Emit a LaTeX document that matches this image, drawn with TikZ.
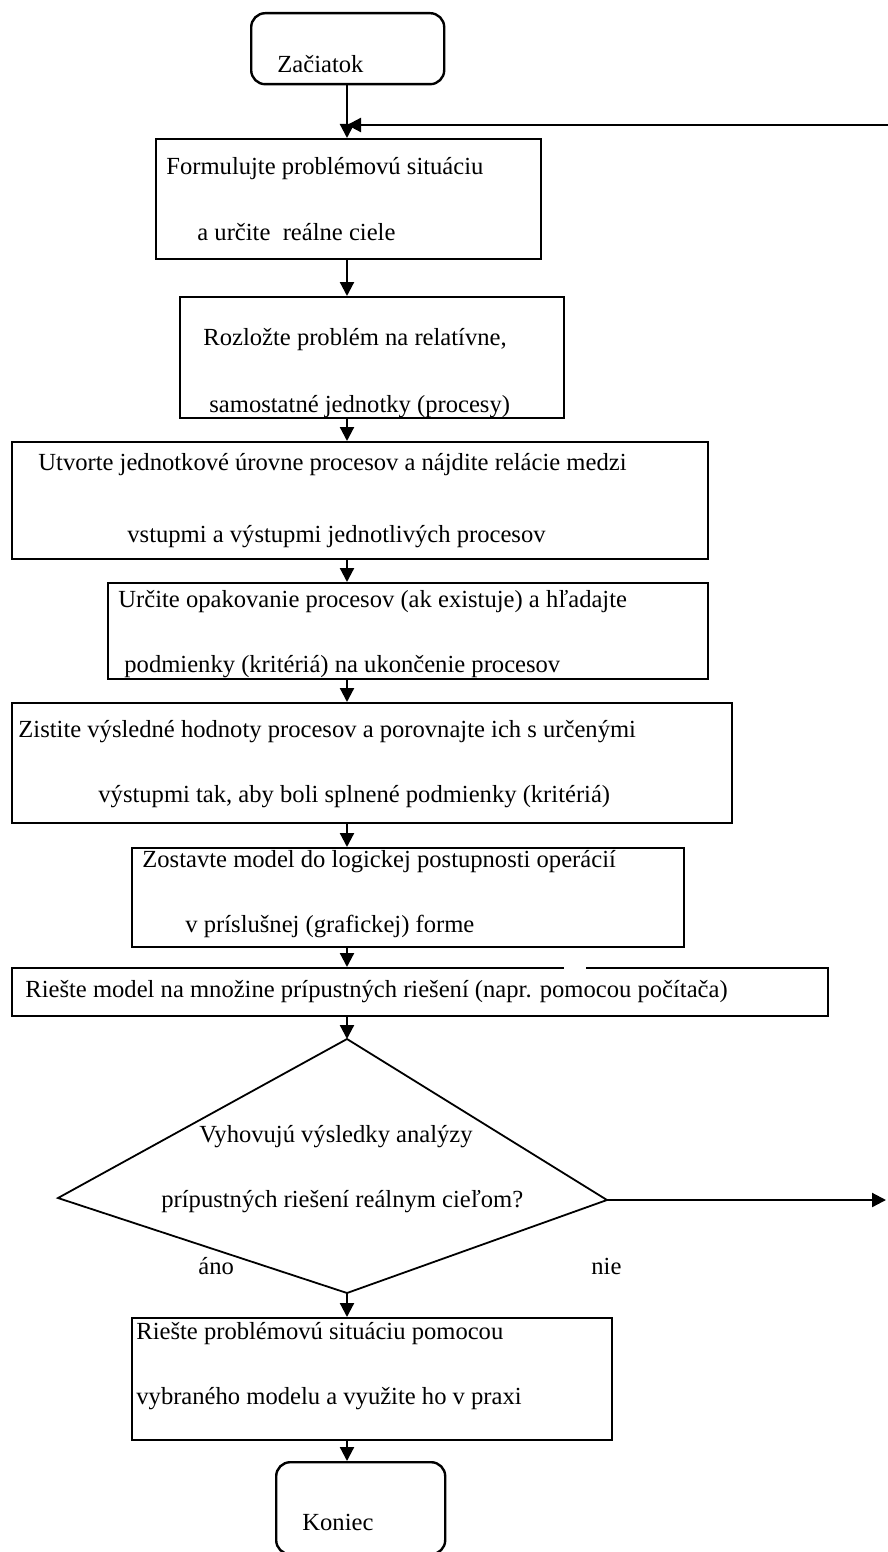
\documentclass[tikz,border=0pt]{standalone}
\usepackage{fontspec}
\setmainfont{Liberation Serif}
\usepackage{tikz}
\usetikzlibrary{arrows.meta}

\begin{document}
\begin{tikzpicture}[x=0.5pt,y=-0.5pt,
  box/.style={draw=black, line width=1.2pt, inner sep=0pt, anchor=north west},
  txt/.style={anchor=base west, inner sep=0pt, font=\fontsize{12.3}{14}\selectfont},
  arr/.style={-{Triangle[width=7pt,length=7pt]}, line width=1.1pt}]
\useasboundingbox (0,0) rectangle (888,1552);

% main axis of the flow
\coordinate (os) at (347,0);

% Start
\node[box, rounded corners=7pt, minimum width=96.5pt, minimum height=35.5pt] (zac) at (250,12) {};
\node[txt] (tzac) at (277,73) {Začiatok};

% Boxes of the steps
\node[box, minimum width=192.5pt, minimum height=60pt] (formul) at (155,138) {};
\node[txt] (tf1) at (166,175) {Formulujte problémovú situáciu};
\node[txt] (tf2) at (197,240) {a určite\ \ reálne ciele};

\node[box, minimum width=192pt, minimum height=60.5pt] (rozloz) at (179,296) {};
\node[txt] (tr1) at (203,345) {Rozložte problém na relatívne,};
\node[txt] (tr2) at (209,412) {samostatné jednotky (procesy)};

\node[box, minimum width=348pt, minimum height=58.5pt] (utvor) at (11,441) {};
\node[txt] (tu1) at (38,470) {Utvorte jednotkové úrovne procesov a nájdite relácie medzi};
\node[txt] (tu2) at (127,542) {vstupmi a výstupmi jednotlivých procesov};

\node[box, minimum width=300pt, minimum height=48pt] (urcite) at (107,582) {};
\node[txt] (tc1) at (118,607) {Určite opakovanie procesov (ak existuje) a hľadajte};
\node[txt] (tc2) at (124,672) {podmienky (kritériá) na ukončenie procesov};

\node[box, minimum width=360pt, minimum height=60pt] (zistite) at (11,702) {};
\node[txt] (tz1) at (18,737) {Zistite výsledné hodnoty procesov a porovnajte ich s určenými};
\node[txt] (tz2) at (98,802) {výstupmi tak, aby boli splnené podmienky (kritériá)};

\node[box, minimum width=276pt, minimum height=49.5pt] (zostav) at (131,847) {};
\node[txt] (ts1) at (142,867) {Zostavte model do logickej postupnosti operácií};
\node[txt] (ts2) at (185,932) {v príslušnej (grafickej) forme};

\node[box, minimum width=408pt, minimum height=24pt] (riesmod) at (11,967) {};
\draw[white, line width=2pt] (564,967) -- (586,967);
\node[txt] (tm1) at (25,997) {Riešte model na množine prípustných riešení (napr. pomocou počítača)};

% Decision
\coordinate (dtop) at (347,1039);
\coordinate (dleft) at (58,1198);
\coordinate (dbot) at (347,1293);
\coordinate (dright) at (607,1200);
\draw[line width=0.9pt] (dtop) -- (dright) -- (dbot) -- (dleft) -- cycle;
\node[txt] (td1) at (199,1142) {Vyhovujú výsledky analýzy};
\node[txt] (td2) at (161,1207) {prípustných riešení reálnym cieľom?};
\node[txt] (ano) at (198,1274) {áno};
\node[txt] (nie) at (591,1274) {nie};

\node[box, minimum width=240pt, minimum height=61pt] (riesprob) at (131,1317) {};
\node[txt] (tp1) at (136,1339) {Riešte problémovú situáciu pomocou};
\node[txt] (tp2) at (136,1404) {vybraného modelu a využite ho v praxi};

% End
\node[box, rounded corners=7pt, minimum width=84.5pt, minimum height=46pt] (kon) at (275,1461) {};
\node[txt] (tkon) at (302,1530) {Koniec};

% Connectors
\draw[arr] (zac.south -| os) -- (formul.north -| os);
\draw[arr] (formul.south -| os) -- (rozloz.north -| os);
\draw[arr] (rozloz.south -| os) -- (utvor.north -| os);
\draw[arr] (utvor.south -| os) -- (urcite.north -| os);
\draw[arr] (urcite.south -| os) -- (zistite.north -| os);
\draw[arr] (zistite.south -| os) -- (zostav.north -| os);
\draw[arr] (zostav.south -| os) -- (riesmod.north -| os);
\draw[arr] (riesmod.south -| os) -- (dtop);
\draw[arr] (dbot) -- (riesprob.north -| os);
\draw[arr] (riesprob.south -| os) -- (kon.north -| os);

% loop back and "nie" exit
\coordinate (fb) at (888,125);
\coordinate (out) at (886,1200);
\draw[arr] (fb) -- (os |- fb);
\draw[arr] (dright) -- (out);
\end{tikzpicture}
\end{document}
